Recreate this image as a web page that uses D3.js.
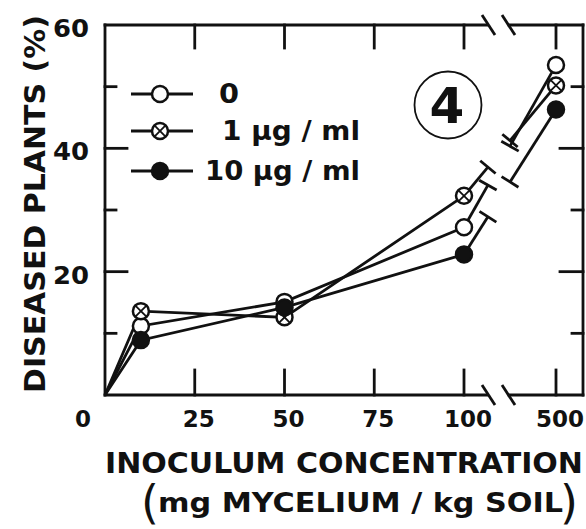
<!DOCTYPE html>
<html><head><meta charset="utf-8">
<script src="https://cdn.jsdelivr.net/npm/d3@7"></script>
<style>body{margin:0;background:#fff}svg{display:block}text{font-family:"DejaVu Sans",sans-serif;font-weight:bold;fill:#111}</style>
</head><body><svg id="c" width="586" height="529"></svg>
<script>
// ---- data ----
const concentrations = [0, 10, 50, 100, 500];
const dose0 = [0, 11.2, 15.1, 27.2, 53.5];
const dose1 = [0, 13.6, 12.6, 32.3, 50.2];
const dose10 = [0, 8.9, 14.2, 22.8, 46.3];
const seriesNames = ["0", "1 µg / ml", "10 µg / ml"];
const xTickValues = [25, 50, 75, 100, 500];
const xTickLabels = ["0", "25", "50", "75", "100", "500"];
const yMajorTicks = [20, 40, 60];
const yMinorTicks = [10, 30, 50];
const yTickLabels = ["20", "40", "60"];

const svg = d3.select("#c");
const L = 105, R = 583, T = 25, B = 395;
const x = d3.scaleLinear().domain([0, 100, 500]).range([L, 464, 556]);
const y = d3.scaleLinear().domain([0, 60]).range([B, T]);
const sw = 2.8, ink = "#111";

// ---- frame with breaks ----
const brk1 = x(100) + 24, brk2 = x(100) + 44;
const g = svg.append("g").attr("stroke", ink).attr("stroke-width", sw).attr("fill", "none").attr("stroke-linecap", "square");
g.append("line").attr("x1", L).attr("x2", L).attr("y1", T).attr("y2", B);
g.append("line").attr("x1", R).attr("x2", R).attr("y1", T).attr("y2", B);
[B, T].forEach(yy => {
  g.append("line").attr("x1", L).attr("x2", brk1 - 1).attr("y1", yy).attr("y2", yy);
  g.append("line").attr("x1", brk2 + 1).attr("x2", R).attr("y1", yy).attr("y2", yy);
  [brk1, brk2].forEach(bx => {
    g.append("line").attr("x1", bx - 6).attr("y1", yy - 10).attr("x2", bx + 7).attr("y2", yy + 10).attr("stroke-linecap", "butt");
  });
});
xTickValues.forEach(v => {
  g.append("line").attr("x1", x(v)).attr("x2", x(v)).attr("y1", B).attr("y2", B - 25);
  g.append("line").attr("x1", x(v)).attr("x2", x(v)).attr("y1", T).attr("y2", T + 23);
});
yMajorTicks.forEach(v => {
  if (v === 60) return;
  g.append("line").attr("x1", L).attr("x2", L + 22).attr("y1", y(v)).attr("y2", y(v));
  g.append("line").attr("x1", R).attr("x2", R - 23).attr("y1", y(v)).attr("y2", y(v));
});
yMinorTicks.forEach(v => {
  g.append("line").attr("x1", L).attr("x2", L + 11).attr("y1", y(v)).attr("y2", y(v));
  g.append("line").attr("x1", R).attr("x2", R - 11).attr("y1", y(v)).attr("y2", y(v));
});

// ---- tick labels ----
[0].concat(xTickValues).forEach((v, i) => {
  svg.append("text").attr("x", v === 0 ? 83 : x(v) + 4).attr("y", 427)
    .attr("text-anchor", "middle").attr("font-size", 23).text(xTickLabels[i]);
});
yMajorTicks.forEach((v, i) => {
  svg.append("text").attr("x", 89).attr("y", y(v) + 12)
    .attr("text-anchor", "end").attr("font-size", 24).attr("textLength", 36).attr("lengthAdjust", "spacingAndGlyphs").text(yTickLabels[i]);
});

// ---- axis titles ----
svg.append("text").attr("x", 105).attr("y", 473).attr("font-size", 29)
  .attr("textLength", 478).attr("lengthAdjust", "spacingAndGlyphs").text("INOCULUM   CONCENTRATION");
svg.append("text").attr("x", 141).attr("y", 518).attr("font-size", 46).style("font-weight", "normal").text("(");
svg.append("text").attr("x", 560).attr("y", 518).attr("font-size", 46).style("font-weight", "normal").text(")");
svg.append("text").attr("x", 158).attr("y", 512).attr("font-size", 27)
  .attr("textLength", 405).attr("lengthAdjust", "spacingAndGlyphs").text("mg  MYCELIUM / kg  SOIL");
svg.append("text").attr("transform", "translate(45,393) rotate(-90)").attr("font-size", 29)
  .attr("textLength", 378).attr("lengthAdjust", "spacingAndGlyphs").text("DISEASED  PLANTS  (%)");

// ---- panel label ----
svg.append("circle").attr("cx", 448).attr("cy", 105).attr("r", 33.5).attr("fill", "none").attr("stroke", ink).attr("stroke-width", 1.8);
svg.append("text").attr("x", 447).attr("y", 123).attr("text-anchor", "middle").attr("font-size", 50).style("font-weight", 900).text("4");

// ---- data ----
const allSeries = [dose0, dose1, dose10];
const kinds = ["open", "cross", "filled"];
const line = d3.line().x(d => x(d[0])).y(d => y(d[1]));
const lg = svg.append("g").attr("stroke", ink).attr("stroke-width", sw).attr("fill", "none");
function stubCap(px, py, dx, dy) {
  const len = Math.hypot(dx, dy), nx = -dy / len, ny = dx / len;
  lg.append("line").attr("x1", px - nx * 10).attr("y1", py - ny * 10).attr("x2", px + nx * 10).attr("y2", py + ny * 10);
}
allSeries.forEach(vals => {
  const pts = concentrations.map((c, i) => [c, vals[i]]);
  lg.append("path").attr("d", line(pts.slice(0, 4)));
  const x0 = x(100), y0 = y(vals[3]), x1 = x(500), y1 = y(vals[4]);
  const dx = x1 - x0, dy = y1 - y0;
  const t1 = 0.26, t2 = 0.5;
  const ax = x0 + dx * t1, ay = y0 + dy * t1, bx = x0 + dx * t2, by = y0 + dy * t2;
  lg.append("line").attr("x1", x0).attr("y1", y0).attr("x2", ax).attr("y2", ay);
  stubCap(ax, ay, dx, dy);
  lg.append("line").attr("x1", bx).attr("y1", by).attr("x2", x1).attr("y2", y1);
  stubCap(bx, by, dx, dy);
});
function marker(sel, cx, cy, kind) {
  const m = sel.append("g").attr("transform", `translate(${cx},${cy})`);
  m.append("circle").attr("r", 8).attr("fill", kind === "filled" ? ink : "#fff").attr("stroke", ink).attr("stroke-width", 2.5);
  if (kind === "cross") {
    const k = 5.3;
    m.append("line").attr("x1", -k).attr("y1", -k).attr("x2", k).attr("y2", k).attr("stroke", ink).attr("stroke-width", 1.8);
    m.append("line").attr("x1", -k).attr("y1", k).attr("x2", k).attr("y2", -k).attr("stroke", ink).attr("stroke-width", 1.8);
  }
}
const mg = svg.append("g");
allSeries.forEach((vals, si) => {
  concentrations.forEach((c, i) => { if (c > 0) marker(mg, x(c), y(vals[i]), kinds[si]); });
});

// ---- legend ----
const legY = [94, 131, 171];
const legTextX = [219, 222, 205];
const legTextLen = [20, 138, 155];
seriesNames.forEach((nm, i) => {
  svg.append("line").attr("x1", 131).attr("x2", 193).attr("y1", legY[i]).attr("y2", legY[i]).attr("stroke", ink).attr("stroke-width", sw);
  marker(svg, 160, legY[i], kinds[i]);
  svg.append("text").attr("x", legTextX[i]).attr("y", legY[i] + 9).attr("font-size", 26)
    .attr("textLength", legTextLen[i]).attr("lengthAdjust", "spacingAndGlyphs").text(nm);
});
</script></body></html>
